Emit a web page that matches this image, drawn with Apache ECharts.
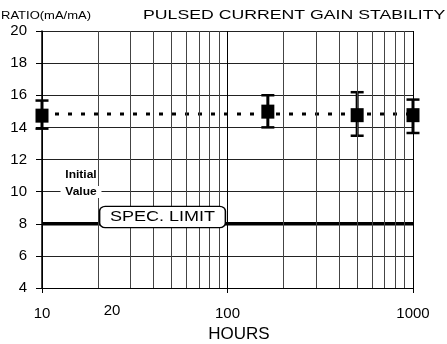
<!DOCTYPE html>
<html>
<head>
<meta charset="utf-8">
<script src="https://cdn.jsdelivr.net/npm/echarts@6/dist/echarts.min.js"></script>
<style>html,body{margin:0;padding:0;background:#fff;}#c{width:447px;height:344px;}</style>
</head>
<body>
<div id="c"></div>
<script>
// ---- data ----
const hours = [10, 165, 500, 1000];
const gainMean = [14.73, 14.98, 14.76, 14.76];
const gainHigh = [15.67, 16.0, 16.19, 15.73];
const gainLow = [13.92, 14.0, 13.48, 13.65];
const initialValue = 14.84;
const lineSpan = [10, 1000];
const specLimit = 8;
const minorHours = [20, 30, 40, 50, 60, 70, 80, 90, 200, 300, 400, 500, 600, 700, 800, 900];
const yRange = [4, 20];
const yStep = 2;

const FONT = '"Liberation Sans", Arial, sans-serif';
const chart = echarts.init(document.getElementById('c'), null, {renderer: 'canvas'});

const meanPts = hours.map((h, i) => [h, gainMean[i]]);
const errPts = hours.map((h, i) => [h, gainLow[i], gainHigh[i]]);
const initPts = lineSpan.map(h => [h, initialValue]);
const specPts = lineSpan.map(h => [h, specLimit]);

const option = {
  animation: false,
  backgroundColor: '#fff',
  grid: {left: 42, right: 34, top: 31, bottom: 56, containLabel: false, outerBoundsMode: 'none'},
  xAxis: {
    type: 'log', logBase: 10, min: 10, max: 1000,
    name: 'HOURS', nameLocation: 'middle', nameGap: 36,
    nameTextStyle: {fontFamily: FONT, fontSize: 17, color: '#000', padding: [0, 0, 0, 23]},
    axisLine: {show: true, lineStyle: {color: '#000', width: 1}},
    axisTick: {show: true, length: 5, lineStyle: {color: '#000'}},
    axisLabel: {fontFamily: FONT, fontSize: 15, color: '#000', margin: 18, formatter: v => String(v)},
    splitLine: {show: true, lineStyle: {color: '#000', width: 1}}
  },
  yAxis: {
    type: 'value', min: yRange[0], max: yRange[1], interval: yStep,
    axisLine: {show: true, lineStyle: {color: '#000', width: 1.5}},
    axisTick: {show: true, length: 6, lineStyle: {color: '#000'}},
    axisLabel: {fontFamily: FONT, fontSize: 15, color: '#000', margin: 15},
    splitLine: {show: true, lineStyle: {color: '#222', width: 1}}
  },
  series: [
    {
      type: 'line', data: [], silent: true, z: 1,
      markLine: {
        silent: true, symbol: ['none', 'none'], label: {show: false},
        lineStyle: {type: 'solid', color: '#444', width: 1},
        data: minorHours.map(v => ({xAxis: v}))
      }
    },
    {
      type: 'line', data: specPts, symbol: 'none', z: 3,
      lineStyle: {color: '#000', width: 3.5}
    },
    {
      type: 'line', data: initPts, symbol: 'none', z: 3,
      lineStyle: {color: '#000', width: 3, type: [4, 9]}
    },
    {
      type: 'custom', data: errPts, z: 4,
      renderItem: function (params, api) {
        const x = api.value(0);
        const lo = api.coord([x, api.value(1)]);
        const hi = api.coord([x, api.value(2)]);
        const hw = 6.5;
        return {
          type: 'group',
          children: [
            {type: 'line', shape: {x1: lo[0], y1: lo[1], x2: hi[0], y2: hi[1]}, style: {stroke: '#000', lineWidth: 3}},
            {type: 'line', shape: {x1: lo[0] - hw, y1: lo[1], x2: lo[0] + hw, y2: lo[1]}, style: {stroke: '#000', lineWidth: 2.5}},
            {type: 'line', shape: {x1: hi[0] - hw, y1: hi[1], x2: hi[0] + hw, y2: hi[1]}, style: {stroke: '#000', lineWidth: 2.5}}
          ]
        };
      }
    },
    {
      type: 'scatter', data: meanPts, symbol: 'rect', symbolSize: [13, 14], z: 5,
      itemStyle: {color: '#000', opacity: 1}
    }
  ],
  graphic: [
    {type: 'text', x: 143, y: 15, scaleX: 1.36, z: 100,
     style: {text: 'PULSED CURRENT GAIN STABILITY', fontFamily: FONT, fontSize: 13, fill: '#000', textAlign: 'left', textVerticalAlign: 'middle'}},
    {type: 'text', x: 1, y: 16, scaleX: 1.3, z: 100,
     style: {text: 'RATIO(mA/mA)', fontFamily: FONT, fontSize: 10, fill: '#000', textAlign: 'left', textVerticalAlign: 'middle'}},
    {type: 'text', x: 112, y: 311, z: 100,
     style: {text: '20', fontFamily: FONT, fontSize: 15, fill: '#000', textAlign: 'center', textVerticalAlign: 'middle'}},
    {type: 'text', x: 81, y: 175, scaleX: 1.2, z: 100,
     style: {text: 'Initial', fontFamily: FONT, fontSize: 10, fontWeight: 'bold', fill: '#000', textAlign: 'center', textVerticalAlign: 'middle'}},
    {type: 'text', x: 81, y: 192, scaleX: 1.2, z: 100,
     style: {text: 'Value', fontFamily: FONT, fontSize: 10, fontWeight: 'bold', fill: '#000', textAlign: 'center', textVerticalAlign: 'middle',
             backgroundColor: '#fff', padding: [1, 4, 1, 4]}},
    {type: 'text', x: 162.5, y: 217, scaleX: 1.2, z: 100,
     style: {text: 'SPEC. LIMIT', fontFamily: FONT, fontSize: 15, fill: '#000', textAlign: 'center', textVerticalAlign: 'middle',
             backgroundColor: '#fff', borderColor: '#000', borderWidth: 1.3, borderRadius: 4, padding: [3, 8, 2, 8]}}
  ]
};
chart.setOption(option);
</script>
</body>
</html>
